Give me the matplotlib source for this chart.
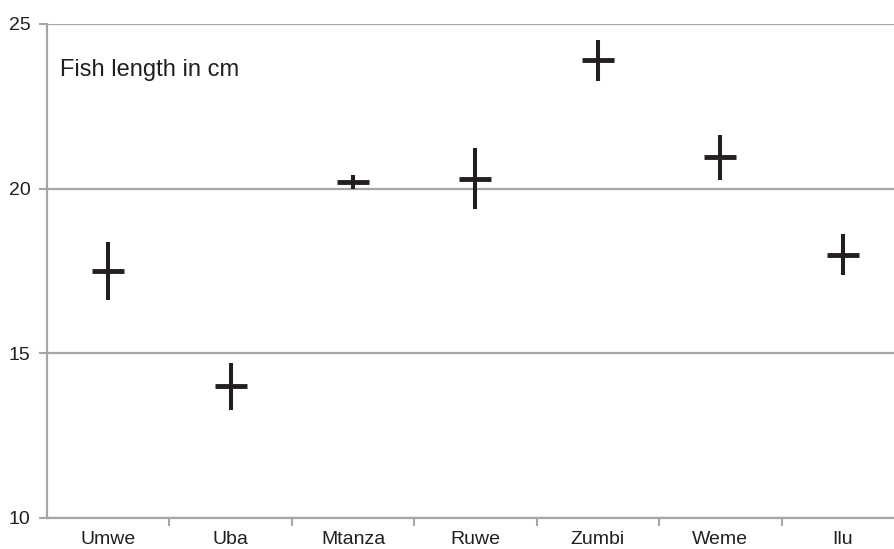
import matplotlib
matplotlib.use('Agg')
import matplotlib.pyplot as plt
import numpy as np

# === Data ===
sites = ['Umwe', 'Uba', 'Mtanza', 'Ruwe', 'Zumbi', 'Weme', 'Ilu']
mean_len = [17.5, 14.0, 20.2, 20.3, 23.9, 20.95, 18.0]
err_len = [0.88, 0.72, 0.22, 0.92, 0.62, 0.69, 0.63]
y_ticks = [10, 15, 20, 25]

_INK = '#231f20'
_GRID = '#a6a6a6'

plt.rcParams['font.family'] = ['Liberation Sans', 'DejaVu Sans']

fig = plt.figure(figsize=(8.94, 5.49), dpi=100)
# axes run past the right edge, as in the cropped original
ax = fig.add_axes([47 / 894, 31 / 549, 857 / 894, 494 / 549])

x = np.arange(len(sites))

# vertical error bars
ax.errorbar(x, mean_len, yerr=err_len, fmt='none', ecolor=_INK,
            elinewidth=2.9, capsize=0, zorder=4)
# horizontal mean marks
ax.plot(x, mean_len, ls='none', marker='_', markersize=22.5,
        markeredgewidth=3.5, color=_INK, zorder=5)

ax.set_xlim(-0.5, len(sites) - 0.5)
ax.set_ylim(10, 25)
ax.set_yticks(y_ticks)
ax.yaxis.grid(True, color=_GRID, linewidth=1.6, zorder=0)
ax.set_axisbelow(True)

ax.set_xticks(x)
ax.set_xticklabels(sites)
ax.set_xticks(np.arange(len(sites)) + 0.5, minor=True)
ax.tick_params(axis='x', which='major', length=0, pad=9,
               labelsize=14, labelcolor=_INK)
ax.tick_params(axis='x', which='minor', length=6, width=1.5, color=_GRID)
ax.tick_params(axis='y', length=6, width=1.5, color=_GRID, pad=6,
               labelsize=14, labelcolor=_INK)

for side in ['top', 'right']:
    ax.spines[side].set_visible(False)
for side in ['left', 'bottom']:
    ax.spines[side].set_color(_GRID)
    ax.spines[side].set_linewidth(1.6)

ax.text(0.015, 0.93, 'Fish length in cm', transform=ax.transAxes,
        fontsize=17, color=_INK, va='top', ha='left')

fig.savefig('out.png', dpi=100, facecolor='white')
